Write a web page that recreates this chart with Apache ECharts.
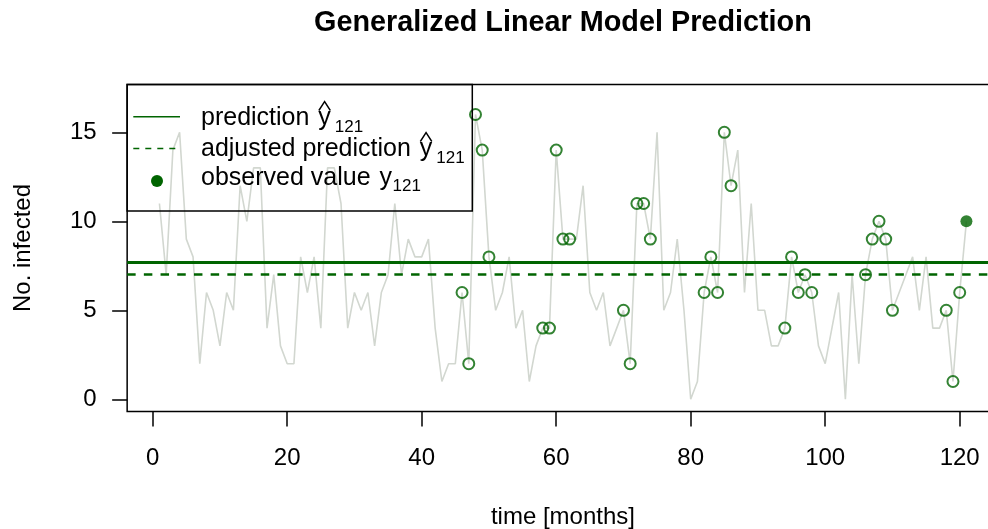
<!DOCTYPE html>
<html>
<head>
<meta charset="utf-8">
<script src="https://cdn.jsdelivr.net/npm/echarts@6/dist/echarts.min.js"></script>
<style>
  html, body { margin: 0; padding: 0; background: #ffffff; }
  #chart { width: 988px; height: 529px; }
</style>
</head>
<body>
<div id="chart"></div>
<script>
// Monthly counts of infected, months 1..121
const firstMonth = 1;
const cases = [
  11, 7, 14, 15, 9, 8, 2, 6, 5, 3, 6, 5,
  12, 10, 13, 13, 4, 7, 3, 2, 2, 8, 6, 8,
  4, 13, 13, 11, 4, 6, 5, 6, 3, 6, 7, 11,
  7, 9, 8, 8, 9, 4, 1, 2, 2, 6, 2, 16,
  14, 8, 5, 6, 8, 4, 5, 1, 3, 4, 4, 14,
  9, 9, 9, 12, 6, 5, 6, 3, 4, 5, 2, 11,
  11, 9, 15, 5, 6, 9, 5, 0, 1, 6, 8, 6,
  15, 12, 14, 6, 11, 5, 5, 3, 3, 4, 8, 6,
  7, 6, 3, 2, 4, 6, 0, 7, 2, 7, 9, 10,
  9, 5, 6, 7, 8, 5, 8, 4, 4, 5, 1, 6,
  10
];
// Months used as reference values for the model fit
const referenceMonths = [
  46, 47, 48, 49, 50, 58, 59, 60, 61, 62, 70, 71, 72, 73, 74,
  82, 83, 84, 85, 86, 94, 95, 96, 97, 98, 106, 107, 108, 109, 110,
  118, 119, 120
];
const observedMonth = 121;
const prediction = 7.70;
const adjustedPrediction = 7.04;

const xTicks = [0, 20, 40, 60, 80, 100, 120];
const yTicks = [0, 5, 10, 15];
const yLimits = [0, 17];

const titleText = 'Generalized Linear Model Prediction';
const xName = 'time [months]';
const yName = 'No. infected';
const legendLabels = ['prediction ', 'adjusted prediction ', 'observed value '];
const legendSub = '121';

// ---- styling ----
const FONT = '"Liberation Sans", Arial, Helvetica, sans-serif';
const GREEN = '#006400';
const GREY = '#d2d7d0';

const months = cases.map((_, k) => firstMonth + k);
const lineData = cases.map((v, k) => [months[k], v]);
const refData = referenceMonths.map(m => [m, cases[m - firstMonth]]);
const obsData = [[observedMonth, cases[observedMonth - firstMonth]]];

// axis ranges padded by 4% on each side
const xLo = months[0], xHi = months[months.length - 1];
const xPad = (xHi - xLo) * 0.04;
const yPad = (yLimits[1] - yLimits[0]) * 0.04;

const W = 988, H = 529;
const plotLeft = 127.15, plotTop = 84.6, plotRight = 998.7, plotBottom = 411.4;

const measureCtx = document.createElement('canvas').getContext('2d');
function textWidth(str, size, weight) {
  measureCtx.font = (weight || 'normal') + ' ' + size + 'px ' + FONT;
  return measureCtx.measureText(str).width;
}

// ---- legend drawn as graphic elements ----
const legendEls = [];
const legendBox = { x: plotLeft, y: plotTop, w: 472.3 - plotLeft, h: 211 - plotTop };
legendEls.push({
  type: 'rect', silent: true, z: 100,
  shape: { x: legendBox.x, y: legendBox.y, width: legendBox.w, height: legendBox.h },
  style: { fill: null, stroke: '#000', lineWidth: 1.5 }
});
const rows = [
  { label: legendLabels[0], hat: true,  mark: 'solid',  markY: 116.7, base: 127 },
  { label: legendLabels[1], hat: true,  mark: 'dashed', markY: 148.5, base: 158 },
  { label: legendLabels[2], hat: false, mark: 'dot',    markY: 181,   base: 186.5 }
];
const textX = 201;
const mainSize = 25, subSize = 17;
rows.forEach(r => {
  if (r.mark === 'dot') {
    legendEls.push({
      type: 'circle', silent: true, z: 100,
      shape: { cx: 157, cy: r.markY, r: 6 },
      style: { fill: GREEN }
    });
  } else {
    legendEls.push({
      type: 'line', silent: true, z: 100,
      shape: { x1: 133.3, y1: r.markY, x2: 180, y2: r.markY },
      style: { stroke: GREEN, lineWidth: 1.5, lineDash: r.mark === 'dashed' ? [6, 6] : null }
    });
  }
  const textStyle = { fill: '#000', fontFamily: FONT, verticalAlign: 'middle', align: 'left' };
  legendEls.push({
    type: 'text', silent: true, z: 100,
    x: textX, y: r.base - 0.3465 * mainSize,
    style: Object.assign({ text: r.label, fontSize: mainSize }, textStyle)
  });
  const yx = textX + textWidth(r.label, mainSize) + 2;
  legendEls.push({
    type: 'text', silent: true, z: 100,
    x: yx, y: r.base - 0.3465 * mainSize,
    style: Object.assign({ text: 'y', fontSize: mainSize }, textStyle)
  });
  const yw = textWidth('y', mainSize);
  if (r.hat) {
    legendEls.push({
      type: 'polyline', silent: true, z: 100,
      shape: { points: [[yx + 0.5, r.base - 16.5], [yx + yw / 2, r.base - 25.5], [yx + yw - 0.5, r.base - 16.5]] },
      style: { stroke: '#000', lineWidth: 1.4, fill: null }
    });
  }
  const subBase = r.base + 6;
  legendEls.push({
    type: 'text', silent: true, z: 100,
    x: yx + yw + (r.hat ? 4 : 0.5), y: subBase - 0.3465 * subSize,
    style: Object.assign({ text: legendSub, fontSize: subSize }, textStyle)
  });
});

// ---- titles ----
const plotCenterX = (plotLeft + plotRight) / 2;
const textEls = [
  {
    type: 'text', silent: true, x: plotCenterX, y: 32.7 - 0.3465 * 28.8,
    style: { text: titleText, fontFamily: FONT, fontSize: 28.8, fontWeight: 'bold', fill: '#000', align: 'center', verticalAlign: 'middle' }
  },
  {
    type: 'text', silent: true, x: plotCenterX, y: 525.5 - 0.3465 * 24,
    style: { text: xName, fontFamily: FONT, fontSize: 24, fill: '#000', align: 'center', verticalAlign: 'middle' }
  },
  {
    type: 'text', silent: true, x: 31.7 - 0.3465 * 24, y: (plotTop + plotBottom) / 2, rotation: Math.PI / 2,
    style: { text: yName, fontFamily: FONT, fontSize: 24, fill: '#000', align: 'center', verticalAlign: 'middle' }
  }
];

const chart = echarts.init(document.getElementById('chart'), null, { renderer: 'canvas', width: W, height: H });

chart.setOption({
  animation: false,
  backgroundColor: '#ffffff',
  grid: {
    left: plotLeft, top: plotTop, right: W - plotRight, bottom: H - plotBottom,
    show: true, borderColor: '#000', borderWidth: 1.5, backgroundColor: 'transparent',
    containLabel: false, outerBoundsMode: 'none'
  },
  xAxis: {
    type: 'value', min: xLo - xPad, max: xHi + xPad,
    splitLine: { show: false },
    axisLine: { show: false, onZero: false },
    axisTick: { show: true, inside: false, customValues: xTicks, length: 15, lineStyle: { color: '#000', width: 1.5 } },
    axisLabel: {
      customValues: xTicks, margin: 47, verticalAlign: 'middle',
      color: '#000', fontSize: 24, fontFamily: FONT
    }
  },
  yAxis: {
    type: 'value', min: yLimits[0] - yPad, max: yLimits[1] + yPad,
    splitLine: { show: false },
    axisLine: { show: false, onZero: false },
    axisTick: { show: true, inside: false, customValues: yTicks, length: 15, lineStyle: { color: '#000', width: 1.5 } },
    axisLabel: {
      customValues: yTicks, margin: 30.5, padding: [4, 0, 0, 0],
      color: '#000', fontSize: 24, fontFamily: FONT
    }
  },
  series: [
    {
      name: 'cases', type: 'line', data: lineData, symbol: 'none', silent: true, z: 1,
      lineStyle: { color: GREY, width: 1.6 }
    },
    {
      name: 'reference', type: 'scatter', data: refData, symbol: 'circle', symbolSize: 11, silent: true, z: 3,
      itemStyle: { color: 'rgba(0,0,0,0)', borderColor: GREEN, borderWidth: 2 },
      markLine: {
        silent: true, symbol: ['none', 'none'], label: { show: false }, animation: false,
        emphasis: { disabled: true },
        data: [
          { yAxis: prediction, lineStyle: { color: GREEN, width: 2.8, type: 'solid' } },
          { yAxis: adjustedPrediction, lineStyle: { color: GREEN, width: 2.6, type: [8.5, 8.2] } }
        ]
      }
    },
    {
      name: 'observed', type: 'scatter', data: obsData, symbol: 'circle', symbolSize: 12, silent: true, z: 4,
      itemStyle: { color: GREEN }
    }
  ],
  graphic: textEls.concat(legendEls)
});
</script>
</body>
</html>
